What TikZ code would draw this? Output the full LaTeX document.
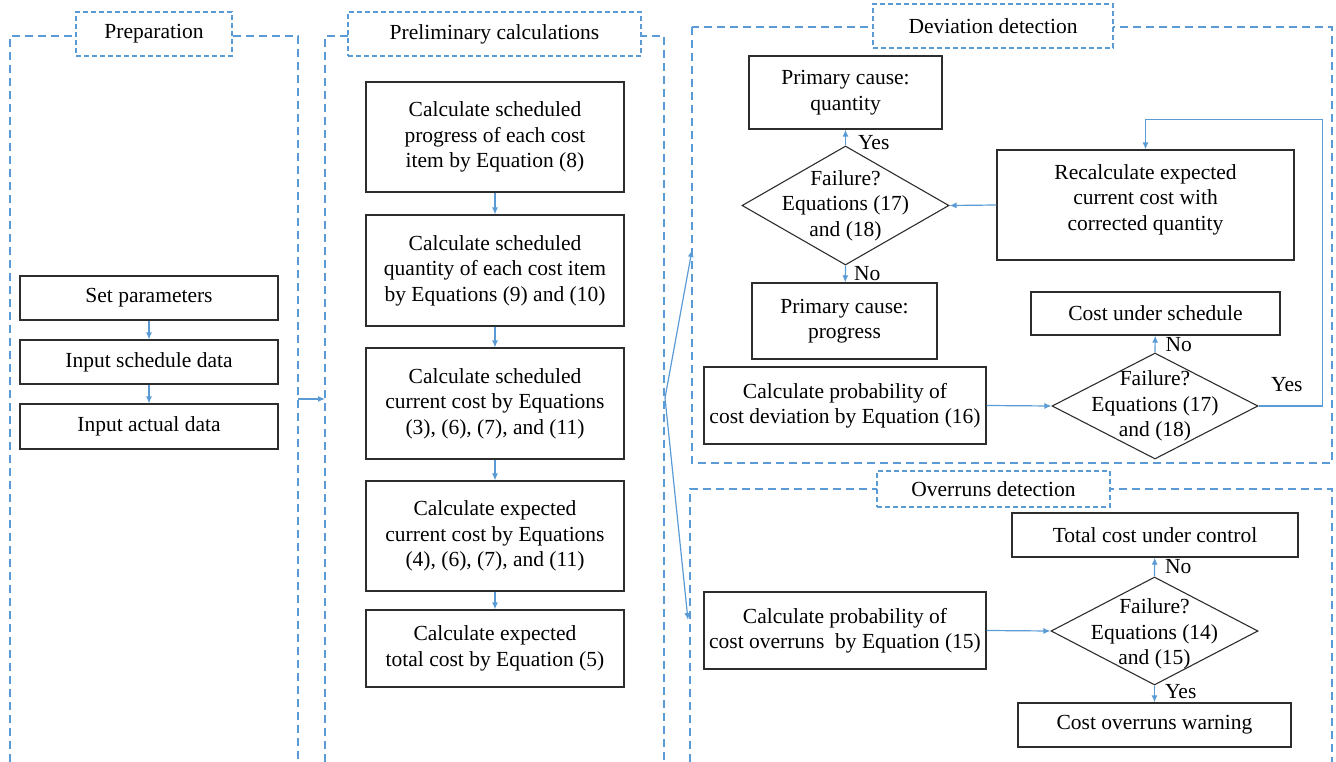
\documentclass[tikz,border=0pt]{standalone}
\usepackage{fontspec}
\setmainfont{Liberation Serif}
\usetikzlibrary{shapes.geometric, arrows.meta}
\definecolor{lineblue}{RGB}{91,155,213}
\definecolor{boxgray}{RGB}{45,45,45}

\begin{document}
\begin{tikzpicture}[
    x=1pt,y=-1pt,font=\fontsize{21.5}{25.5}\selectfont,
    box/.style={draw=boxgray, line width=1.2pt, align=center, inner sep=0pt},
    decision/.style={diamond, draw=boxgray, line width=1.1pt, inner sep=0pt},
    panel/.style={draw=lineblue, line width=1.2pt, dash pattern=on 8pt off 5pt},
    title/.style={draw=lineblue, line width=1.2pt, dash pattern=on 5pt off 3pt, fill=white, inner sep=0pt},
    flow/.style={draw=lineblue, line width=1.2pt, -{Latex[length=7pt,width=6pt]}},
    lbl/.style={inner sep=0pt, anchor=west}
    ]
    \useasboundingbox (0,0) rectangle (1336,762);
    % panels
    \draw[panel] (10,762) -- (10,36) -- (298,36) -- (298,762);
    \draw[panel] (325,762) -- (325,36) -- (664,36) -- (664,762);
    \draw[panel] (692,27) rectangle (1332,463);
    \draw[panel] (690,762) -- (690,489) -- (1332,489) -- (1332,762);
    \node[title, minimum width=156pt, minimum height=44pt] (preptitle) at (154,34) {Preparation};
    \node[title, minimum width=293pt, minimum height=44pt] (calctitle) at (494.5,34) {Preliminary calculations};
    \node[title, minimum width=240pt, minimum height=44pt] (devtitle) at (993,26) {Deviation detection};
    \node[title, minimum width=233pt, minimum height=36pt] (ovtitle) at (993.5,489) {Overruns detection};

    % preparation
    \node[box, minimum width=258pt, minimum height=44pt] (setpar) at (149,298) {Set parameters};
    \node[box, minimum width=258pt, minimum height=44pt] (schedin) at (149,362) {Input schedule data};
    \node[box, minimum width=258pt, minimum height=45pt] (actin) at (149,426.5) {Input actual data};
    \draw[flow] (setpar) -- (schedin);
    \draw[flow] (schedin) -- (actin);

    % preliminary calculations
    \node[box, minimum width=258pt, minimum height=110pt] (prog) at (495,137) {Calculate scheduled\\progress of each cost\\item by Equation (8)};
    \node[box, minimum width=258pt, minimum height=111pt] (quant) at (495,270.5) {Calculate scheduled\\quantity of each cost item\\by Equations (9) and (10)};
    \node[box, minimum width=258pt, minimum height=111pt] (schcost) at (495,403.5) {Calculate scheduled\\current cost by Equations\\(3), (6), (7), and (11)};
    \node[box, minimum width=258pt, minimum height=110pt] (expcost) at (495,536) {Calculate expected\\current cost by Equations\\(4), (6), (7), and (11)};
    \node[box, minimum width=258pt, minimum height=77pt] (totcost) at (495,648.5) {Calculate expected\\total cost by Equation (5)};
    \draw[flow] (prog) -- (quant);
    \draw[flow] (quant) -- (schcost);
    \draw[flow] (schcost) -- (expcost);
    \draw[flow] (expcost) -- (totcost);

    % links between panels
    \coordinate (prepout) at (298,399);
    \coordinate (calcin) at (325,399);
    \coordinate (calcout) at (665,398);
    \coordinate (devin) at (692,250);
    \coordinate (ovin) at (688,620);
    \draw[flow] (prepout) -- (calcin);
    \draw[flow] (calcout) -- (devin);
    \draw[flow] (calcout) -- (ovin);

    % deviation detection
    \node[box, minimum width=193pt, minimum height=73pt] (causeq) at (845.5,92.5) {Primary cause:\\quantity};
    \node[decision, minimum width=207pt, minimum height=119pt] (devchk) at (845.5,205.5) {};
    \node[align=center, inner sep=0pt] (devchktxt) at (devchk) {Failure?\\Equations (17)\\and (18)};
    \node[box, minimum width=297pt, minimum height=110pt] (recalc) at (1145.5,205) {Recalculate expected\\current cost with\\corrected quantity\\[-10pt]};
    \node[box, minimum width=185pt, minimum height=76pt] (causep) at (844.5,321) {Primary cause:\\progress};
    \node[box, minimum width=282pt, minimum height=77pt] (devprob) at (845,405.5) {Calculate probability of\\cost deviation by Equation (16)};
    \node[box, minimum width=249pt, minimum height=43pt] (undersch) at (1155.5,313.5) {Cost under schedule};
    \node[decision, minimum width=206pt, minimum height=106pt] (schchk) at (1155,406) {};
    \node[align=center, inner sep=0pt] (schchktxt) at (schchk) {Failure?\\Equations (17)\\and (18)};
    \draw[flow] (devchk.north) -- node[lbl, pos=0, xshift=12pt, yshift=3pt] {Yes} (causeq);
    \draw[flow] (devchk.south) -- node[lbl, pos=0, xshift=8pt, yshift=-8pt] {No} (causep);
    \draw[flow] (recalc.west) -- (devchk.east);
    \draw[flow] (devprob.east) -- (schchk.west);
    \draw[flow] (schchk.north) -- node[lbl, pos=0, xshift=10pt, yshift=8pt] {No} (undersch);
    \draw[flow] (schchk.east) -- node[lbl, pos=0, xshift=12pt, yshift=21pt] {Yes} ++(64,0)
        |- ([yshift=30pt]recalc.north) -- (recalc.north);

    % overruns detection
    \node[box, minimum width=282pt, minimum height=77pt] (ovprob) at (845,630.5) {Calculate probability of\\cost overruns\ \ by Equation (15)};
    \node[box, minimum width=286pt, minimum height=44pt] (control) at (1155,535) {Total cost under control};
    \node[decision, minimum width=207pt, minimum height=108pt] (ovchk) at (1154.5,631) {};
    \node[align=center, inner sep=0pt] (ovchktxt) at ([yshift=-3pt]ovchk) {Failure?\\Equations (14)\\and (15)};
    \node[box, minimum width=273pt, minimum height=44pt] (warn) at (1154.5,725) {Cost overruns warning};
    \draw[flow] (ovprob.east) -- (ovchk.west);
    \draw[flow] (ovchk.north) -- node[lbl, pos=0, xshift=10pt, yshift=10pt] {No} (control);
    \draw[flow] (ovchk.south) -- node[lbl, pos=0, xshift=10pt, yshift=-6pt] {Yes} (warn);
\end{tikzpicture}
\end{document}
